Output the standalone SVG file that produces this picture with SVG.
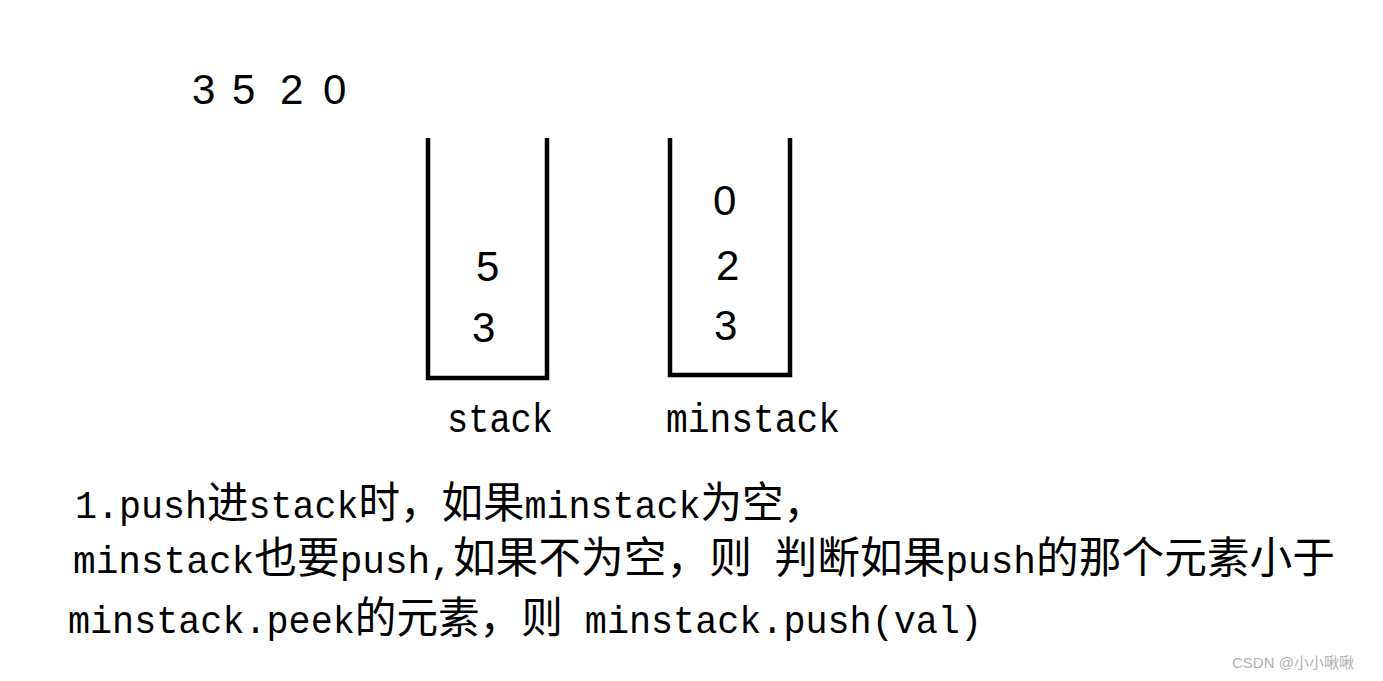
<svg xmlns="http://www.w3.org/2000/svg" width="1383" height="681" viewBox="0 0 1383 681">
<style>
.num{font-family:"Liberation Sans",Arial,sans-serif;font-size:42px;fill:#000}
.txt{font-family:"Liberation Mono","Noto Sans CJK SC",monospace;font-size:38px;fill:#000}
.txt .c{font-family:"Noto Sans CJK SC",sans-serif;font-size:43px}
.box{fill:none;stroke:#000;stroke-width:4.5}
.wm{font-family:"Liberation Sans","Noto Sans CJK SC",sans-serif;font-size:15px;fill:#b0b0b0}
</style>
<rect width="1383" height="681" fill="#fff"/>
<g id="sequence">
<text class="num" x="192" y="104">3</text>
<text class="num" x="232" y="104">5</text>
<text class="num" x="280" y="104">2</text>
<text class="num" x="323" y="104">0</text>
</g>
<g id="stack">
<polyline class="box" points="428,138 428,378 547,378 547,138"/>
<text class="num" x="476" y="281">5</text>
<text class="num" x="472" y="342">3</text>
<text class="txt" x="447" y="432" style="font-size:40px" textLength="106" lengthAdjust="spacingAndGlyphs">stack</text>
</g>
<g id="minstack">
<polyline class="box" points="670,138 670,375 790,375 790,138"/>
<text class="num" x="713" y="215">0</text>
<text class="num" x="716" y="280">2</text>
<text class="num" x="714" y="340">3</text>
<text class="txt" x="666" y="432" style="font-size:40px" textLength="174" lengthAdjust="spacingAndGlyphs">minstack</text>
</g>
<g id="connectors"></g>
<g id="description">
<text class="txt" x="75" y="518" textLength="750" lengthAdjust="spacingAndGlyphs">1.push<tspan class="c">进</tspan>stack<tspan class="c">时，如果</tspan>minstack<tspan class="c">为空，</tspan></text>
<text class="txt" x="73" y="573" textLength="1262" lengthAdjust="spacingAndGlyphs">minstack<tspan class="c">也要</tspan>push,<tspan class="c">如果不为空，则</tspan> <tspan class="c">判断如果</tspan>push<tspan class="c">的那个元素小于</tspan></text>
<text class="txt" x="68" y="633" textLength="914" lengthAdjust="spacingAndGlyphs">minstack.peek<tspan class="c">的元素，则</tspan> minstack.push(val)</text>
</g>
<g id="watermark">
<text class="wm" x="1232" y="668">CSDN @小小啾啾</text>
</g>
</svg>
